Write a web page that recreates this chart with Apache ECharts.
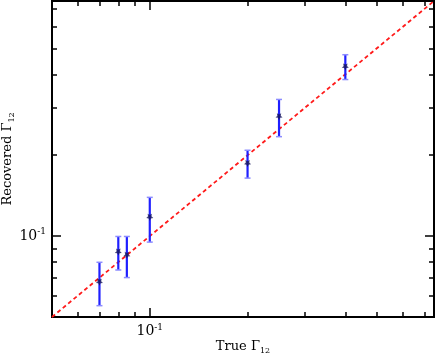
<!DOCTYPE html>
<html>
<head>
<meta charset="utf-8">
<script src="https://cdn.jsdelivr.net/npm/echarts@6/dist/echarts.min.js"></script>
<style>
  html, body { margin: 0; padding: 0; background: #fff; }
  #chart { width: 436px; height: 356px; }
</style>
</head>
<body>
<div id="chart"></div>
<script>
// measured points (true vs recovered)
var trueX = [0.07, 0.08, 0.085, 0.1, 0.2, 0.25, 0.4];
var recY = [0.0674, 0.0872, 0.0848, 0.1176, 0.1864, 0.2783, 0.4263];
var errLow = [0.0551, 0.0748, 0.0701, 0.0950, 0.1644, 0.2345, 0.3826];
var errHigh = [0.0799, 0.0997, 0.0997, 0.1394, 0.2087, 0.3226, 0.4733];

// y = x reference line
var diag = [0.05, 0.75];

// ticks
var majorTicks = [0.1];
var minorTicks = [0.06, 0.07, 0.08, 0.09, 0.2, 0.3, 0.4, 0.5, 0.6, 0.7];
var axisMin = 0.05, axisMax = 0.75;

var FONT = '"DejaVu Serif", "Liberation Serif", serif';

var chart = echarts.init(document.getElementById('chart'));

var rich = {
  b: { fontFamily: FONT, fontSize: 14, color: '#000' },
  s: { fontFamily: FONT, fontSize: 9, color: '#000', verticalAlign: 'top', padding: [0, 0, 8, 0] }
};
var nameRich = {
  b: { fontFamily: FONT, fontSize: 13, color: '#000' },
  s: { fontFamily: FONT, fontSize: 8, color: '#000', padding: [8, 0, 0, 0] }
};

function baseAxis(pos, extra) {
  var ax = {
    type: 'log',
    logBase: 10,
    min: axisMin,
    max: axisMax,
    position: pos,
    splitLine: { show: false },
    axisLine: { show: true, onZero: false, lineStyle: { color: '#000', width: 2 } },
    axisLabel: { show: false },
    axisTick: { show: false }
  };
  return Object.assign(ax, extra || {});
}

function majorTick(len) {
  return { show: true, inside: true, length: len, customValues: majorTicks, lineStyle: { color: '#000', width: 1.5 } };
}
function minorTick(len) {
  return { show: true, inside: true, length: len, customValues: minorTicks, lineStyle: { color: '#000', width: 1.5 } };
}

var option = {
  animation: false,
  grid: { left: 52, right: 2, top: 1, bottom: 39, outerBoundsMode: 'none', containLabel: false },
  xAxis: [
    baseAxis('bottom', {
      name: '{b|True Γ}{s|12}',
      nameLocation: 'middle',
      nameGap: 22,
      nameMoveOverlap: false,
      nameTextStyle: { rich: nameRich },
      axisTick: majorTick(9),
      axisLabel: {
        show: true, margin: 6, customValues: majorTicks,
        formatter: function () { return '{b|10}{s|-1}'; },
        rich: rich
      }
    }),
    baseAxis('bottom', { axisTick: minorTick(5) }),
    baseAxis('top', { axisTick: majorTick(9) }),
    baseAxis('top', { axisTick: minorTick(5) })
  ],
  yAxis: [
    baseAxis('left', {
      name: '{b|Recovered Γ}{s|12}',
      nameLocation: 'middle',
      nameGap: 36,
      nameMoveOverlap: false,
      nameTextStyle: { rich: nameRich },
      axisTick: majorTick(9),
      axisLabel: {
        show: true, margin: 6, customValues: majorTicks,
        formatter: function () { return '{b|10}{s|-1}'; },
        rich: rich
      }
    }),
    baseAxis('left', { axisTick: minorTick(5) }),
    baseAxis('right', { axisTick: majorTick(9) }),
    baseAxis('right', { axisTick: minorTick(5) })
  ],
  series: [
    {
      type: 'line',
      data: diag.map(function (v) { return [v, v]; }),
      symbol: 'none',
      lineStyle: { color: '#ff1a1a', width: 1.8, type: [4, 3] },
      z: 2
    },
    {
      type: 'custom',
      data: trueX.map(function (x, i) { return [x, errLow[i], errHigh[i]]; }),
      renderItem: function (params, api) {
        var lo = api.coord([api.value(0), api.value(1)]);
        var hi = api.coord([api.value(0), api.value(2)]);
        var w = 3;
        return {
          type: 'group',
          children: [
            { type: 'line', shape: { x1: lo[0], y1: lo[1], x2: hi[0], y2: hi[1] },
              style: { stroke: '#1f1fff', lineWidth: 2.2 } },
            { type: 'line', shape: { x1: lo[0] - w, y1: lo[1], x2: lo[0] + w, y2: lo[1] },
              style: { stroke: '#8c8cff', lineWidth: 1.5 } },
            { type: 'line', shape: { x1: hi[0] - w, y1: hi[1], x2: hi[0] + w, y2: hi[1] },
              style: { stroke: '#8c8cff', lineWidth: 1.5 } }
          ]
        };
      },
      z: 3
    },
    {
      type: 'scatter',
      data: trueX.map(function (x, i) { return [x, recY[i]]; }),
      symbol: 'path://M0,-10 L2.9,-4 L9.5,-3.1 L4.7,1.5 L5.9,8.1 L0,5 L-5.9,8.1 L-4.7,1.5 L-9.5,-3.1 L-2.9,-4 Z',
      symbolRotate: 180,
      symbolSize: 7,
      itemStyle: { color: '#14145a' },
      z: 4
    }
  ]
};

chart.setOption(option);
</script>
</body>
</html>
